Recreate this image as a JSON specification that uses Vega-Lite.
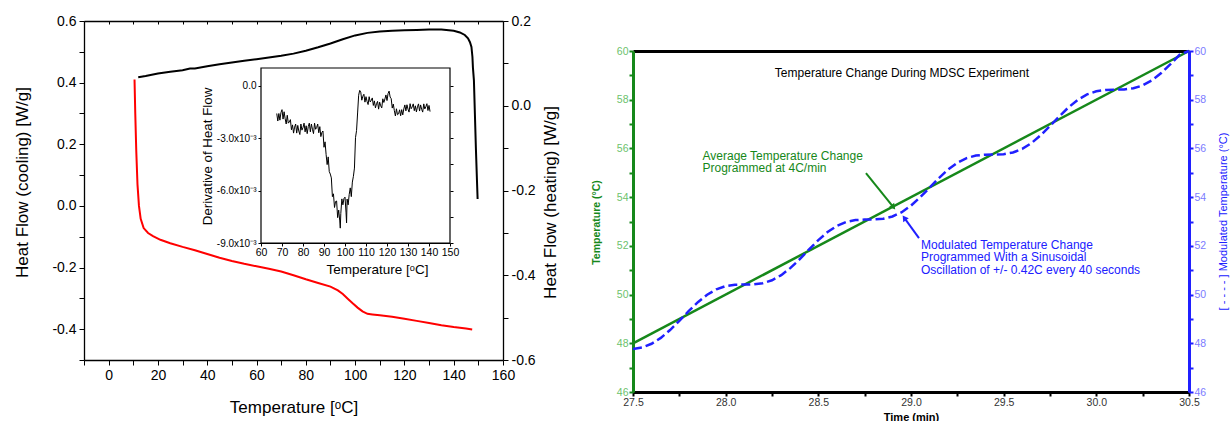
{
  "$schema": "https://vega.github.io/schema/vega-lite/v6.json",
  "width": 1231,
  "height": 421,
  "autosize": {"type": "none"},
  "padding": 0,
  "background": "white",
  "config": {
    "view": {"stroke": null},
    "axis": {"grid": false, "labelFont": "Liberation Sans", "titleFont": "Liberation Sans", "domainColor": "black", "tickColor": "black", "labelColor": "black", "titleColor": "black", "labelOverlap": false, "labelFlush": false, "titleFontWeight": "normal"},
    "text": {"font": "Liberation Sans"}
  },
  "datasets": {
    "red": [
      {"T": 10.5, "HF": 0.41}, {"T": 10.8, "HF": 0.3}, {"T": 11.2, "HF": 0.18}, {"T": 11.7, "HF": 0.07}, {"T": 12.3, "HF": 0.0}, {"T": 13.0, "HF": -0.042}, {"T": 14.2, "HF": -0.072}, {"T": 16.0, "HF": -0.088}, {"T": 18.0, "HF": -0.098}, {"T": 21.0, "HF": -0.11}, {"T": 25.0, "HF": -0.121}, {"T": 30.0, "HF": -0.133}, {"T": 35.0, "HF": -0.144}, {"T": 40.0, "HF": -0.156}, {"T": 45.0, "HF": -0.168}, {"T": 50.0, "HF": -0.179}, {"T": 55.0, "HF": -0.188}, {"T": 60.0, "HF": -0.196}, {"T": 65.0, "HF": -0.204}, {"T": 70.0, "HF": -0.213}, {"T": 75.0, "HF": -0.225}, {"T": 80.0, "HF": -0.238}, {"T": 85.0, "HF": -0.25}, {"T": 90.0, "HF": -0.262}, {"T": 93.0, "HF": -0.274}, {"T": 95.0, "HF": -0.286}, {"T": 97.0, "HF": -0.301}, {"T": 99.0, "HF": -0.316}, {"T": 101.0, "HF": -0.33}, {"T": 103.0, "HF": -0.342}, {"T": 105.0, "HF": -0.35}, {"T": 107.0, "HF": -0.352}, {"T": 110.0, "HF": -0.355}, {"T": 115.0, "HF": -0.36}, {"T": 120.0, "HF": -0.366}, {"T": 125.0, "HF": -0.373}, {"T": 130.0, "HF": -0.38}, {"T": 135.0, "HF": -0.387}, {"T": 140.0, "HF": -0.393}, {"T": 145.0, "HF": -0.398}, {"T": 147.5, "HF": -0.401}
    ],
    "black": [
      {"T": 12.0, "HF": 0.067}, {"T": 15.0, "HF": 0.07}, {"T": 20.0, "HF": 0.076}, {"T": 25.0, "HF": 0.08}, {"T": 30.0, "HF": 0.084}, {"T": 33.0, "HF": 0.088}, {"T": 35.0, "HF": 0.088}, {"T": 40.0, "HF": 0.093}, {"T": 45.0, "HF": 0.098}, {"T": 50.0, "HF": 0.102}, {"T": 55.0, "HF": 0.106}, {"T": 60.0, "HF": 0.11}, {"T": 65.0, "HF": 0.114}, {"T": 70.0, "HF": 0.118}, {"T": 75.0, "HF": 0.123}, {"T": 80.0, "HF": 0.13}, {"T": 85.0, "HF": 0.138}, {"T": 90.0, "HF": 0.147}, {"T": 95.0, "HF": 0.157}, {"T": 100.0, "HF": 0.166}, {"T": 105.0, "HF": 0.172}, {"T": 110.0, "HF": 0.175}, {"T": 115.0, "HF": 0.177}, {"T": 120.0, "HF": 0.178}, {"T": 125.0, "HF": 0.179}, {"T": 130.0, "HF": 0.18}, {"T": 135.0, "HF": 0.18}, {"T": 140.0, "HF": 0.177}, {"T": 142.5, "HF": 0.173}, {"T": 144.5, "HF": 0.167}, {"T": 145.8, "HF": 0.159}, {"T": 146.6, "HF": 0.15}, {"T": 147.2, "HF": 0.139}, {"T": 147.6, "HF": 0.115}, {"T": 147.8, "HF": 0.09}, {"T": 148.2, "HF": 0.06}, {"T": 148.6, "HF": -0.02}, {"T": 149.0, "HF": -0.1}, {"T": 149.4, "HF": -0.17}, {"T": 149.7, "HF": -0.22}
    ],
    "frame": [{"T": 60, "T2": 150, "d": -0.009, "d2": 0.001}],
    "inset": [
      {"T": 67.5, "d": -0.0016}, {"T": 68.0, "d": -0.00203}, {"T": 68.5, "d": -0.0016}, {"T": 69.0, "d": -0.00198}, {"T": 69.5, "d": -0.00155}, {"T": 70.0, "d": -0.00138}, {"T": 70.5, "d": -0.00192}, {"T": 71.0, "d": -0.0015}, {"T": 71.5, "d": -0.0019}, {"T": 72.0, "d": -0.0022}, {"T": 72.5, "d": -0.0017}, {"T": 73.0, "d": -0.00215}, {"T": 73.5, "d": -0.00208}, {"T": 74.0, "d": -0.00195}, {"T": 74.5, "d": -0.00253}, {"T": 75.0, "d": -0.00225}, {"T": 75.5, "d": -0.00272}, {"T": 76.0, "d": -0.00238}, {"T": 76.5, "d": -0.0022}, {"T": 77.0, "d": -0.00272}, {"T": 77.5, "d": -0.00228}, {"T": 78.0, "d": -0.0026}, {"T": 78.5, "d": -0.0028}, {"T": 79.0, "d": -0.0022}, {"T": 79.5, "d": -0.00255}, {"T": 80.0, "d": -0.0024}, {"T": 80.5, "d": -0.00215}, {"T": 81.0, "d": -0.00265}, {"T": 81.5, "d": -0.0023}, {"T": 82.0, "d": -0.00275}, {"T": 82.5, "d": -0.00235}, {"T": 83.0, "d": -0.00215}, {"T": 83.5, "d": -0.00265}, {"T": 84.0, "d": -0.0022}, {"T": 84.5, "d": -0.0025}, {"T": 85.0, "d": -0.00275}, {"T": 85.5, "d": -0.00215}, {"T": 86.0, "d": -0.0025}, {"T": 86.5, "d": -0.0024}, {"T": 87.0, "d": -0.0022}, {"T": 87.5, "d": -0.0027}, {"T": 88.0, "d": -0.00235}, {"T": 88.5, "d": -0.00292}, {"T": 89.0, "d": -0.00268}, {"T": 89.5, "d": -0.0026}, {"T": 90.0, "d": -0.00353}, {"T": 90.5, "d": -0.00322}, {"T": 91.0, "d": -0.00394}, {"T": 91.5, "d": -0.00452}, {"T": 92.0, "d": -0.00408}, {"T": 92.5, "d": -0.00492}, {"T": 93.0, "d": -0.00506}, {"T": 93.5, "d": -0.00528}, {"T": 94.0, "d": -0.00635}, {"T": 94.5, "d": -0.00619}, {"T": 95.0, "d": -0.00697}, {"T": 95.5, "d": -0.00663}, {"T": 96.0, "d": -0.0066}, {"T": 96.5, "d": -0.00755}, {"T": 97.0, "d": -0.00712}, {"T": 97.5, "d": -0.00774}, {"T": 97.75, "d": -0.00815}, {"T": 98.0, "d": -0.00732}, {"T": 98.5, "d": -0.00648}, {"T": 99.0, "d": -0.00682}, {"T": 99.5, "d": -0.00646}, {"T": 100.0, "d": -0.00638}, {"T": 100.5, "d": -0.00728}, {"T": 100.75, "d": -0.00785}, {"T": 101.0, "d": -0.00649}, {"T": 101.5, "d": -0.00682}, {"T": 102.0, "d": -0.00623}, {"T": 102.5, "d": -0.00585}, {"T": 103.0, "d": -0.00635}, {"T": 103.5, "d": -0.00552}, {"T": 104.0, "d": -0.00519}, {"T": 104.5, "d": -0.00472}, {"T": 105.0, "d": -0.00298}, {"T": 105.5, "d": -0.00257}, {"T": 106.0, "d": -0.00157}, {"T": 106.5, "d": -0.00056}, {"T": 107.0, "d": -0.00028}, {"T": 107.5, "d": -0.00038}, {"T": 108.0, "d": -0.00084}, {"T": 108.5, "d": -0.00061}, {"T": 109.0, "d": -0.0005}, {"T": 109.5, "d": -0.00095}, {"T": 110.0, "d": -0.00064}, {"T": 110.5, "d": -0.00091}, {"T": 111.0, "d": -0.00109}, {"T": 111.5, "d": -0.00064}, {"T": 112.0, "d": -0.00094}, {"T": 112.5, "d": -0.00085}, {"T": 113.0, "d": -0.00071}, {"T": 113.5, "d": -0.00114}, {"T": 114.0, "d": -0.00088}, {"T": 114.5, "d": -0.00128}, {"T": 115.0, "d": -0.00104}, {"T": 115.5, "d": -0.00091}, {"T": 116.0, "d": -0.00135}, {"T": 116.5, "d": -0.00095}, {"T": 117.0, "d": -0.00116}, {"T": 117.5, "d": -0.00128}, {"T": 118.0, "d": -0.00076}, {"T": 118.5, "d": -0.00097}, {"T": 119.0, "d": -0.00077}, {"T": 119.5, "d": -0.00054}, {"T": 120.0, "d": -0.00086}, {"T": 120.5, "d": -0.00046}, {"T": 121.0, "d": -0.00032}, {"T": 121.5, "d": -0.00066}, {"T": 122.0, "d": -0.00075}, {"T": 122.5, "d": -0.00129}, {"T": 123.0, "d": -0.00106}, {"T": 123.5, "d": -0.00144}, {"T": 124.0, "d": -0.00174}, {"T": 124.5, "d": -0.00133}, {"T": 125.0, "d": -0.00167}, {"T": 125.5, "d": -0.00162}, {"T": 126.0, "d": -0.00139}, {"T": 126.5, "d": -0.00173}, {"T": 127.0, "d": -0.00138}, {"T": 127.5, "d": -0.00168}, {"T": 128.0, "d": -0.00134}, {"T": 128.5, "d": -0.00111}, {"T": 129.0, "d": -0.00145}, {"T": 129.5, "d": -0.0011}, {"T": 130.0, "d": -0.00135}, {"T": 130.5, "d": -0.00152}, {"T": 131.0, "d": -0.00104}, {"T": 131.5, "d": -0.00133}, {"T": 132.0, "d": -0.00122}, {"T": 132.5, "d": -0.00105}, {"T": 133.0, "d": -0.00144}, {"T": 133.5, "d": -0.00116}, {"T": 134.0, "d": -0.00151}, {"T": 134.5, "d": -0.00122}, {"T": 135.0, "d": -0.00105}, {"T": 135.5, "d": -0.00146}, {"T": 136.0, "d": -0.00111}, {"T": 136.5, "d": -0.00136}, {"T": 137.0, "d": -0.00152}, {"T": 137.5, "d": -0.00105}, {"T": 138.0, "d": -0.00134}, {"T": 138.5, "d": -0.00121}, {"T": 139.0, "d": -0.00104}, {"T": 139.5, "d": -0.00143}, {"T": 140.0, "d": -0.00114}, {"T": 140.5, "d": -0.00149}
    ],
    "avg": [{"time": 27.5, "temp": 48.0}, {"time": 30.5, "temp": 60.0}],
    "mod": [
      {"time": 27.5, "temp": 47.764}, {"time": 27.55, "temp": 47.832}, {"time": 27.6, "temp": 47.98}, {"time": 27.65, "temp": 48.22}, {"time": 27.7, "temp": 48.543}, {"time": 27.75, "temp": 48.921}, {"time": 27.8, "temp": 49.317}, {"time": 27.85, "temp": 49.687}, {"time": 27.9, "temp": 49.995}, {"time": 27.95, "temp": 50.217}, {"time": 28.0, "temp": 50.347}, {"time": 28.05, "temp": 50.402}, {"time": 28.1, "temp": 50.413}, {"time": 28.15, "temp": 50.421}, {"time": 28.2, "temp": 50.468}, {"time": 28.25, "temp": 50.587}, {"time": 28.3, "temp": 50.797}, {"time": 28.35, "temp": 51.094}, {"time": 28.4, "temp": 51.458}, {"time": 28.45, "temp": 51.853}, {"time": 28.5, "temp": 52.236}, {"time": 28.55, "temp": 52.568}, {"time": 28.6, "temp": 52.82}, {"time": 28.65, "temp": 52.98}, {"time": 28.7, "temp": 53.057}, {"time": 28.75, "temp": 53.079}, {"time": 28.8, "temp": 53.083}, {"time": 28.85, "temp": 53.113}, {"time": 28.9, "temp": 53.205}, {"time": 28.95, "temp": 53.383}, {"time": 29.0, "temp": 53.653}, {"time": 29.05, "temp": 53.998}, {"time": 29.1, "temp": 54.387}, {"time": 29.15, "temp": 54.779}, {"time": 29.2, "temp": 55.132}, {"time": 29.25, "temp": 55.413}, {"time": 29.3, "temp": 55.603}, {"time": 29.35, "temp": 55.706}, {"time": 29.4, "temp": 55.742}, {"time": 29.45, "temp": 55.747}, {"time": 29.5, "temp": 55.764}, {"time": 29.55, "temp": 55.832}, {"time": 29.6, "temp": 55.98}, {"time": 29.65, "temp": 56.22}, {"time": 29.7, "temp": 56.543}, {"time": 29.75, "temp": 56.921}, {"time": 29.8, "temp": 57.317}, {"time": 29.85, "temp": 57.687}, {"time": 29.9, "temp": 57.995}, {"time": 29.95, "temp": 58.217}, {"time": 30.0, "temp": 58.347}, {"time": 30.05, "temp": 58.402}, {"time": 30.1, "temp": 58.413}, {"time": 30.15, "temp": 58.421}, {"time": 30.2, "temp": 58.468}, {"time": 30.25, "temp": 58.587}, {"time": 30.3, "temp": 58.797}, {"time": 30.35, "temp": 59.094}, {"time": 30.4, "temp": 59.458}, {"time": 30.45, "temp": 59.853}, {"time": 30.5, "temp": 60.0}
    ],
    "notes": [
      {"kind": "title", "time": 28.951, "temp": 59.1, "label": "Temperature Change During MDSC Experiment"},
      {"kind": "avg", "time": 27.875, "temp": 55.69, "label": "Average Temperature Change"},
      {"kind": "avg", "time": 27.875, "temp": 55.18, "label": "Programmed at 4C/min"},
      {"kind": "mod", "time": 29.054, "temp": 52.035, "label": "Modulated Temperature Change"},
      {"kind": "mod", "time": 29.054, "temp": 51.53, "label": "Programmed With a Sinusoidal"},
      {"kind": "mod", "time": 29.054, "temp": 51.01, "label": "Oscillation of +/- 0.42C every 40 seconds"}
    ],
    "arrows": [
      {"kind": "avg", "time": 28.757, "temp": 54.99, "time2": 28.905, "temp2": 53.59},
      {"kind": "mod", "time": 29.043, "temp": 52.32, "time2": 28.964, "temp2": 53.15}
    ]
  },
  "resolve": {"scale": {"x": "independent", "y": "independent", "color": "independent"}, "axis": {"x": "independent", "y": "independent"}},
  "layer": [
    {
      "data": {"name": "red"},
      "mark": {"type": "line", "color": "#ff0000", "strokeWidth": 2},
      "encoding": {
        "x": {"field": "T", "type": "quantitative", "scale": {"domain": [-10, 160], "range": [84, 503], "nice": false, "zero": false},
          "axis": {"orient": "bottom", "offset": -61, "values": [-10, 0, 10, 20, 30, 40, 50, 60, 70, 80, 90, 100, 110, 120, 130, 140, 150, 160], "labelExpr": "datum.value % 20 == 0 ? '' + datum.value : ''", "tickSize": 5, "labelFontSize": 14, "labelPadding": 3, "domainWidth": 1.3, "title": "Temperature [ᵒC]", "titleFontSize": 17, "titleX": 293.5, "titleY": 47, "titleBaseline": "middle"}},
        "y": {"field": "HF", "type": "quantitative", "scale": {"domain": [-0.5, 0.6], "range": [360, 21], "nice": false, "zero": false},
          "axis": {"orient": "left", "offset": -84, "values": [-0.5, -0.4, -0.3, -0.2, -0.1, 0, 0.1, 0.2, 0.3, 0.4, 0.5, 0.6], "labelExpr": "round(datum.value*10) % 2 == 0 ? (datum.value < 0 ? '-' : '') + format(abs(datum.value), '.1f') : ''", "tickSize": 5, "labelFontSize": 14, "labelPadding": 3, "domainWidth": 1.3, "title": "Heat Flow (cooling) [W/g]", "titleFontSize": 17, "titleAngle": 270, "titleX": -62, "titleY": 182, "titleBaseline": "middle"}}
      }
    },
    {
      "data": {"name": "black"},
      "mark": {"type": "line", "color": "black", "strokeWidth": 2},
      "encoding": {
        "x": {"field": "T", "type": "quantitative", "scale": {"domain": [-10, 160], "range": [84, 503], "nice": false, "zero": false},
          "axis": {"orient": "top", "offset": -21, "values": [-10, 0, 10, 20, 30, 40, 50, 60, 70, 80, 90, 100, 110, 120, 130, 140, 150, 160], "labels": false, "tickSize": -3, "domainWidth": 1.3, "title": null}},
        "y": {"field": "HF", "type": "quantitative", "scale": {"domain": [-0.6, 0.2], "range": [360, 21], "nice": false, "zero": false},
          "axis": {"orient": "right", "offset": -728, "values": [-0.6, -0.5, -0.4, -0.3, -0.2, -0.1, 0, 0.1, 0.2], "labelExpr": "round(datum.value*10) % 2 == 0 ? (datum.value < 0 ? '-' : '') + format(abs(datum.value), '.1f') : ''", "tickSize": 5, "labelFontSize": 14, "labelPadding": 3, "domainWidth": 1.3, "title": "Heat Flow (heating) [W/g]", "titleFontSize": 17, "titleAngle": 270, "titleX": 47, "titleY": 202, "titleBaseline": "middle"}}
      }
    },
    {
      "data": {"name": "frame"},
      "mark": {"type": "rect", "fill": "white", "stroke": "black", "strokeWidth": 1.2},
      "encoding": {
        "x": {"field": "T", "type": "quantitative", "scale": {"domain": [60, 150], "range": [261, 450], "nice": false, "zero": false}, "axis": null},
        "x2": {"field": "T2"},
        "y": {"field": "d", "type": "quantitative", "scale": {"domain": [-0.009, 0.001], "range": [243, 68], "nice": false, "zero": false},
          "axis": {"orient": "right", "offset": -781, "values": [0, -0.0015, -0.003, -0.0045, -0.006, -0.0075, -0.009], "labels": false, "domain": false, "tickSize": 3, "title": null}},
        "y2": {"field": "d2"}
      }
    },
    {
      "data": {"name": "inset"},
      "mark": {"type": "line", "color": "black", "strokeWidth": 1},
      "encoding": {
        "x": {"field": "T", "type": "quantitative", "scale": {"domain": [60, 150], "range": [261, 450], "nice": false, "zero": false},
          "axis": {"orient": "bottom", "offset": -178, "values": [60, 70, 80, 90, 100, 110, 120, 130, 140, 150], "tickSize": 3, "labelFontSize": 10.5, "labelPadding": 1, "title": "Temperature [ᵒC]", "titleFontSize": 13.5, "titleX": 377, "titleY": 26, "titleBaseline": "middle"}},
        "y": {"field": "d", "type": "quantitative", "scale": {"domain": [-0.009, 0.001], "range": [243, 68], "nice": false, "zero": false},
          "axis": {"orient": "left", "offset": -261, "values": [0, -0.003, -0.006, -0.009], "labelExpr": "datum.value == 0 ? '0.0' : '-' + format(abs(datum.value)*1000, '.1f') + 'x10⁻³'", "tickSize": 3, "labelFontSize": 10, "labelPadding": 2, "title": "Derivative of Heat Flow", "titleFontSize": 13.3, "titleAngle": 270, "titleX": -54, "titleY": 156, "titleBaseline": "middle"}}
      }
    },
    {
      "data": {"name": "avg"},
      "mark": {"type": "line", "color": "#16881a", "strokeWidth": 2.5},
      "encoding": {
        "x": {"field": "time", "type": "quantitative", "scale": {"domain": [27.5, 30.5], "range": [633, 1189], "nice": false, "zero": false},
          "axis": {"orient": "bottom", "offset": -29, "values": [27.5, 27.75, 28, 28.25, 28.5, 28.75, 29, 29.25, 29.5, 29.75, 30, 30.25, 30.5], "labelExpr": "round(datum.value*4) % 2 == 0 ? format(datum.value, '.1f') : ''", "tickSize": 4, "tickWidth": 2, "domainWidth": 3, "labelFontSize": 10.5, "labelColor": "#333333", "labelPadding": 1, "title": "Time (min)", "titleFontSize": 11, "titleFontWeight": "bold", "titleX": 911, "titleY": 25, "titleBaseline": "middle"}},
        "y": {"field": "temp", "type": "quantitative", "scale": {"domain": [46, 60], "range": [392, 51], "nice": false, "zero": false},
          "axis": {"orient": "left", "offset": -633, "values": [46, 47, 48, 49, 50, 51, 52, 53, 54, 55, 56, 57, 58, 59, 60], "labelExpr": "datum.value % 2 == 0 ? '' + datum.value : ''", "tickSize": 4, "tickWidth": 2, "tickColor": "#16881a", "domainColor": "#16881a", "domainWidth": 3, "labelFontSize": 10.5, "labelColor": "#6cc26c", "labelPadding": 1, "title": "Temperature (°C)", "titleColor": "#16881a", "titleFontSize": 10.5, "titleFontWeight": "bold", "titleAngle": 270, "titleX": -37, "titleY": 222, "titleBaseline": "middle"}}
      }
    },
    {
      "data": {"name": "mod"},
      "mark": {"type": "line", "color": "#2020ff", "strokeWidth": 2.5, "strokeDash": [9, 4]},
      "encoding": {
        "x": {"field": "time", "type": "quantitative", "scale": {"domain": [27.5, 30.5], "range": [633, 1189], "nice": false, "zero": false},
          "axis": {"orient": "top", "offset": -51, "labels": false, "ticks": false, "domainWidth": 3, "title": null}},
        "y": {"field": "temp", "type": "quantitative", "scale": {"domain": [46, 60], "range": [392, 51], "nice": false, "zero": false},
          "axis": {"orient": "right", "offset": -42, "values": [46, 47, 48, 49, 50, 51, 52, 53, 54, 55, 56, 57, 58, 59, 60], "labelExpr": "datum.value % 2 == 0 ? '' + datum.value : ''", "tickSize": 4, "tickWidth": 2, "tickColor": "#2020ff", "domainColor": "#2020ff", "domainWidth": 3, "labelFontSize": 10.5, "labelColor": "#7b7bff", "labelPadding": 1, "title": "[ - - - - ] Modulated Temperature (°C)", "titleColor": "#2020ff", "titleFontSize": 11, "titleAngle": 270, "titleX": 34, "titleY": 221, "titleBaseline": "middle"}}
      }
    },
    {
      "data": {"name": "notes"},
      "transform": [{"filter": "datum.kind == 'title'"}],
      "mark": {"type": "text", "align": "center", "baseline": "middle", "fontSize": 12, "color": "black"},
      "encoding": {
        "x": {"field": "time", "type": "quantitative", "scale": {"domain": [27.5, 30.5], "range": [633, 1189], "nice": false, "zero": false}, "axis": null},
        "y": {"field": "temp", "type": "quantitative", "scale": {"domain": [46, 60], "range": [392, 51], "nice": false, "zero": false}, "axis": null},
        "text": {"field": "label"}
      }
    },
    {
      "data": {"name": "notes"},
      "transform": [{"filter": "datum.kind != 'title'"}],
      "mark": {"type": "text", "align": "left", "baseline": "middle", "fontSize": 12},
      "encoding": {
        "x": {"field": "time", "type": "quantitative", "scale": {"domain": [27.5, 30.5], "range": [633, 1189], "nice": false, "zero": false}, "axis": null},
        "y": {"field": "temp", "type": "quantitative", "scale": {"domain": [46, 60], "range": [392, 51], "nice": false, "zero": false}, "axis": null},
        "color": {"field": "kind", "type": "nominal", "scale": {"domain": ["avg", "mod"], "range": ["#16881a", "#2020ff"]}, "legend": null},
        "text": {"field": "label"}
      }
    },
    {
      "data": {"name": "arrows"},
      "mark": {"type": "rule", "strokeWidth": 2},
      "encoding": {
        "x": {"field": "time", "type": "quantitative", "scale": {"domain": [27.5, 30.5], "range": [633, 1189], "nice": false, "zero": false}, "axis": null},
        "y": {"field": "temp", "type": "quantitative", "scale": {"domain": [46, 60], "range": [392, 51], "nice": false, "zero": false}, "axis": null},
        "x2": {"field": "time2"},
        "y2": {"field": "temp2"},
        "color": {"field": "kind", "type": "nominal", "scale": {"domain": ["avg", "mod"], "range": ["#16881a", "#2020ff"]}, "legend": null}
      }
    },
    {
      "data": {"name": "arrows"},
      "transform": [{"filter": "datum.kind == 'avg'"}],
      "mark": {"type": "point", "shape": "triangle-up", "filled": true, "size": 45, "angle": 141, "color": "#16881a", "opacity": 1},
      "encoding": {
        "x": {"field": "time2", "type": "quantitative", "scale": {"domain": [27.5, 30.5], "range": [633, 1189], "nice": false, "zero": false}, "axis": null},
        "y": {"field": "temp2", "type": "quantitative", "scale": {"domain": [46, 60], "range": [392, 51], "nice": false, "zero": false}, "axis": null}
      }
    },
    {
      "data": {"name": "arrows"},
      "transform": [{"filter": "datum.kind == 'mod'"}],
      "mark": {"type": "point", "shape": "triangle-up", "filled": true, "size": 45, "angle": 325, "color": "#2020ff", "opacity": 1},
      "encoding": {
        "x": {"field": "time2", "type": "quantitative", "scale": {"domain": [27.5, 30.5], "range": [633, 1189], "nice": false, "zero": false}, "axis": null},
        "y": {"field": "temp2", "type": "quantitative", "scale": {"domain": [46, 60], "range": [392, 51], "nice": false, "zero": false}, "axis": null}
      }
    }
  ]
}
